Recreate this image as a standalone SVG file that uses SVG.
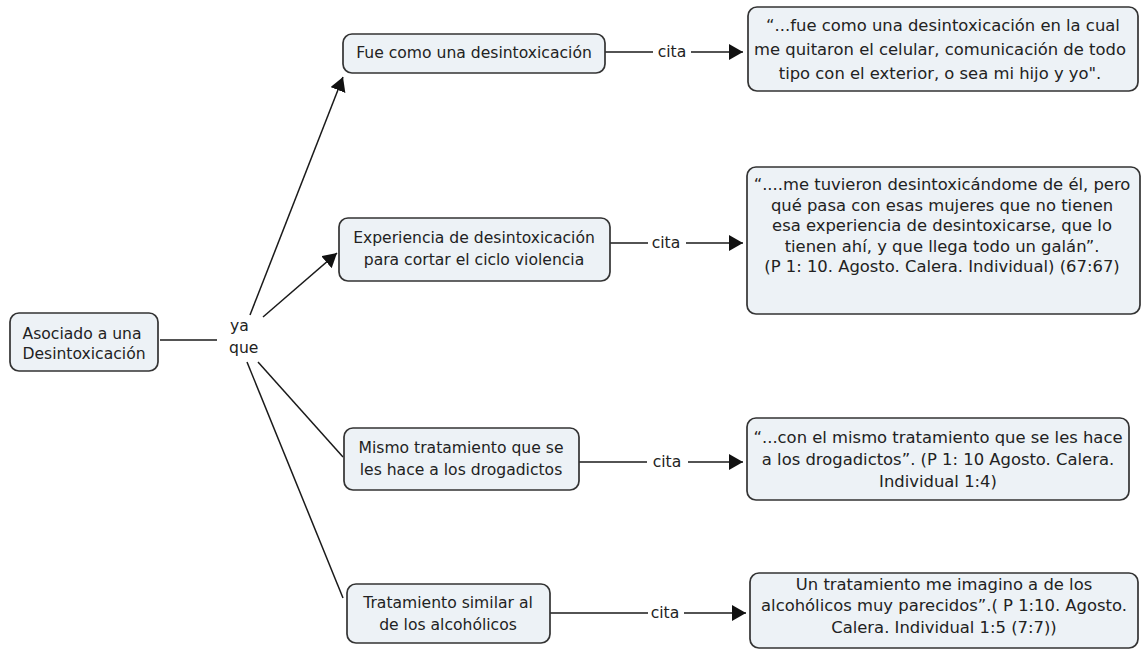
<svg xmlns="http://www.w3.org/2000/svg" width="1141" height="653" viewBox="0 0 1141 653">
<defs>
<marker id="ah" markerUnits="userSpaceOnUse" markerWidth="16" markerHeight="18" refX="14" refY="8" orient="auto">
<path d="M0,0 L14,8 L0,16 z" fill="#111"/>
</marker>
<style>
.box{fill:#edf2f6;stroke:#333;stroke-width:1.7}
.t{font-family:"DejaVu Sans",Verdana,sans-serif;font-size:15.6px;fill:#222;text-anchor:middle}
.q{font-family:"DejaVu Sans",Verdana,sans-serif;font-size:16.4px;fill:#222;text-anchor:middle}
.l{font-family:"DejaVu Sans",Verdana,sans-serif;font-size:15.6px;fill:#222}
.c{stroke:#1a1a1a;stroke-width:1.5;fill:none}
</style>
</defs>
<rect width="1141" height="653" fill="#fff"/>

<g id="connectors">
<line class="c" x1="160" y1="340" x2="217" y2="340"/>
<text class="l" x="230" y="331">ya</text>
<text class="l" x="229" y="352.5">que</text>
<line class="c" x1="250" y1="315" x2="343" y2="77" marker-end="url(#ah)"/>
<line class="c" x1="263" y1="317" x2="337" y2="253" marker-end="url(#ah)"/>
<line class="c" x1="258" y1="362" x2="343" y2="457"/>
<line class="c" x1="247" y1="362" x2="343" y2="598"/>

<line class="c" x1="605" y1="52" x2="653" y2="52"/>
<text class="t" x="672" y="57">cita</text>
<line class="c" x1="691" y1="52" x2="743" y2="52" marker-end="url(#ah)"/>

<line class="c" x1="610" y1="243" x2="648" y2="243"/>
<text class="t" x="666" y="248">cita</text>
<line class="c" x1="686" y1="243" x2="743" y2="243" marker-end="url(#ah)"/>

<line class="c" x1="579" y1="462" x2="647" y2="462"/>
<text class="t" x="667" y="467">cita</text>
<line class="c" x1="688" y1="462" x2="743" y2="462" marker-end="url(#ah)"/>

<line class="c" x1="550" y1="613" x2="648" y2="613"/>
<text class="t" x="665" y="618">cita</text>
<line class="c" x1="684" y1="613" x2="746" y2="613" marker-end="url(#ah)"/>
</g>

<g id="root">
<rect class="box" x="10" y="313" width="148" height="58" rx="9"/>
<text class="t" x="82" y="339">Asociado a una</text>
<text class="t" x="84" y="359">Desintoxicación</text>
</g>

<g id="n-fue">
<rect class="box" x="343" y="34" width="262" height="39" rx="9"/>
<text class="t" x="474" y="58">Fue como una desintoxicación</text>
</g>

<g id="n-experiencia">
<rect class="box" x="339" y="218" width="271" height="63" rx="9"/>
<text class="t" x="474" y="243">Experiencia de desintoxicación</text>
<text class="t" x="474" y="265">para cortar el ciclo violencia</text>
</g>

<g id="n-mismo">
<rect class="box" x="344" y="428" width="235" height="62" rx="9"/>
<text class="t" x="461" y="452.5">Mismo tratamiento que se</text>
<text class="t" x="461" y="475">les hace a los drogadictos</text>
</g>

<g id="n-tratamiento">
<rect class="box" x="347" y="584" width="203" height="59" rx="9"/>
<text class="t" x="448" y="608">Tratamiento similar al</text>
<text class="t" x="448" y="629.5">de los alcohólicos</text>
</g>

<g id="q1">
<rect class="box" x="748" y="7" width="390" height="84" rx="9"/>
<text class="q" x="943" y="31">“...fue como una desintoxicación en la cual</text>
<text class="q" x="940" y="55">me quitaron el celular, comunicación de todo</text>
<text class="q" x="940" y="79">tipo con el exterior, o sea mi hijo y yo".</text>
</g>

<g id="q2">
<rect class="box" x="747" y="167" width="393" height="147" rx="9"/>
<text class="q" x="942" y="190">“....me tuvieron desintoxicándome de él, pero</text>
<text class="q" x="942" y="210.5">qué pasa con esas mujeres que no tienen</text>
<text class="q" x="942" y="231">esa experiencia de desintoxicarse, que lo</text>
<text class="q" x="942" y="251.5">tienen ahí, y que llega todo un galán”.</text>
<text class="q" x="942" y="272">(P 1: 10. Agosto. Calera. Individual) (67:67)</text>
</g>

<g id="q3">
<rect class="box" x="747" y="418" width="382" height="82" rx="9"/>
<text class="q" x="938" y="442.5">“...con el mismo tratamiento que se les hace</text>
<text class="q" x="938" y="465">a los drogadictos”. (P 1: 10 Agosto. Calera.</text>
<text class="q" x="938" y="486.5">Individual 1:4)</text>
</g>

<g id="q4">
<rect class="box" x="750" y="573" width="388" height="75" rx="9"/>
<text class="q" x="944" y="589.5">Un tratamiento me imagino a de los</text>
<text class="q" x="944" y="611">alcohólicos muy parecidos”.( P 1:10. Agosto.</text>
<text class="q" x="944" y="632.5">Calera. Individual 1:5 (7:7))</text>
</g>
</svg>
